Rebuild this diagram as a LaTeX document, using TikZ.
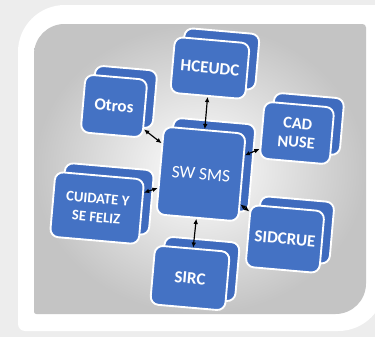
\documentclass[tikz,border=0pt]{standalone}
\usepackage{fontspec}
\setmainfont{Carlito}
\usetikzlibrary{arrows.meta,shadows,positioning}
\definecolor{boxblue}{HTML}{4472C4}
\definecolor{boxback}{HTML}{3F6BBE}
\definecolor{panelgray}{HTML}{C4C4C4}

\begin{document}
\begin{tikzpicture}[x=0.03cm, y=-0.03cm,
  sys/.style={draw=white, line width=1.6pt, fill=boxblue, rounded corners=7pt, rotate=-5,
    text=white, font=\fontsize{14.5}{15.5}\selectfont\bfseries, align=center, inner sep=2pt,
    copy shadow={shadow xshift=0.3cm, shadow yshift=0.27cm, draw=white, fill=boxback, line width=1.6pt}},
  hub/.style={sys, font=\fontsize{15}{16}\selectfont},
  arr/.style={{Latex[length=4.5pt,width=4pt]}-{Latex[length=4.5pt,width=4pt]}, line width=1pt, black}]
\useasboundingbox (0,0) rectangle (375,337);
\clip (0,0) rectangle (375,337);
% frame
\fill[gray!14] (0,0) rectangle (375,337);
\fill[white] (18,200) [rounded corners=40pt]-- (18,5) [rounded corners=6pt]-- (385,5) [rounded corners=40pt]-- (385,331) [rounded corners=6pt]-- (18,331) -- cycle;
\shade[inner color=white, outer color=panelgray] (34,150) [rounded corners=26pt]-- (34,24) [rounded corners=3pt]-- (366,24) [rounded corners=26pt]-- (366,314) [rounded corners=2pt]-- (34,314) -- cycle;
% systems
\node[hub, minimum width=2.46cm, minimum height=2.64cm] (sw) at (201,174) {SW SMS};
\node[sys, minimum width=2.25cm, minimum height=1.68cm] (hce) at (210,68) {HCEUDC};
\node[sys, minimum width=1.86cm, minimum height=1.74cm] (otr) at (114,106) {Otros};
\node[sys, minimum width=2.1cm, minimum height=1.71cm, font=\fontsize{14}{16}\selectfont\bfseries] (cad) at (297,133) {CAD\\NUSE};
\node[sys, minimum width=2.67cm, minimum height=1.95cm, font=\fontsize{12.5}{16}\selectfont\bfseries] (cui) at (97,208) {CUIDATE Y\\SE FELIZ};
\node[sys, minimum width=2.22cm, minimum height=1.86cm] (sid) at (285,239) {SIDCRUE};
\node[sys, minimum width=2.25cm, minimum height=1.77cm] (sirc) at (190,278) {SIRC};
% links
\draw[arr] (hce) -- (sw);
\draw[arr] (otr) -- (sw);
\draw[arr] (cad) -- (sw);
\draw[arr] (cui) -- (sw);
\draw[arr] (sid) -- (sw);
\draw[arr] (sirc) -- (sw);
\end{tikzpicture}
\end{document}
